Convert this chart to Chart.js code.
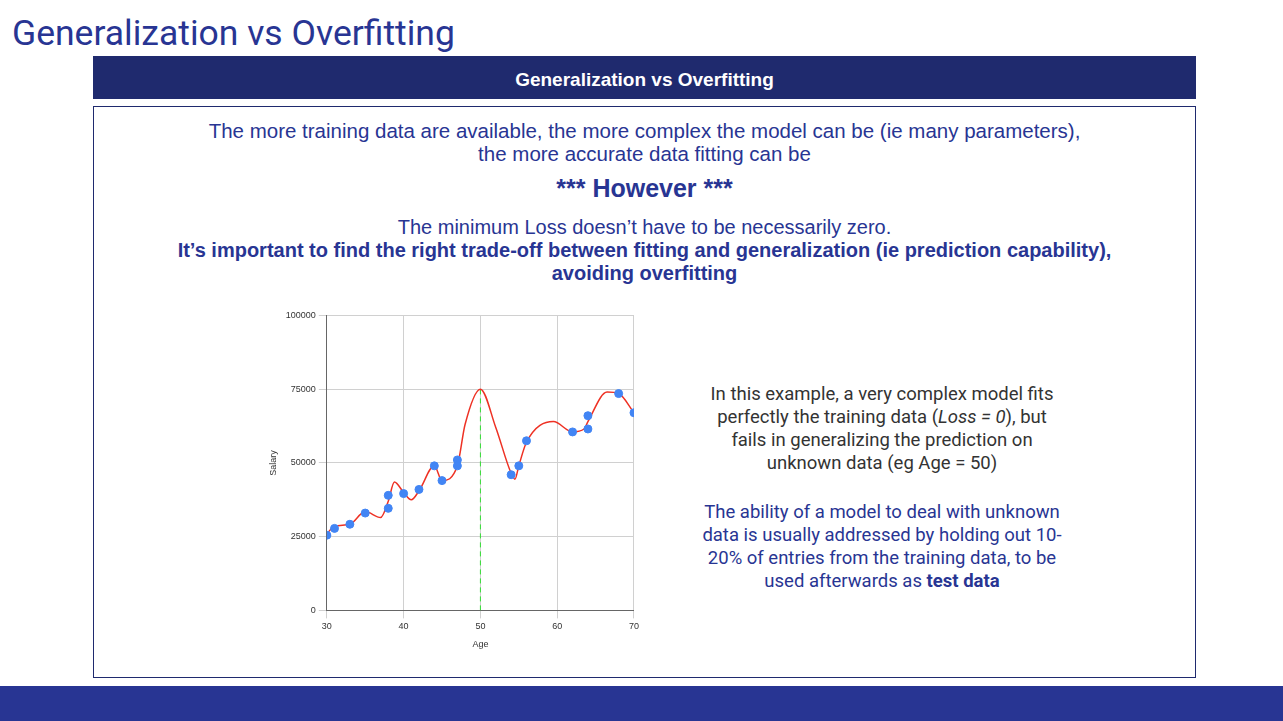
<!DOCTYPE html>
<html><head><meta charset="utf-8">
<script src="https://cdn.jsdelivr.net/npm/chart.js"></script>
<style>
body{margin:0;width:1283px;height:721px;position:relative;background:#fff;font-family:Roboto,"Open Sans",sans-serif;overflow:hidden}
.t{position:absolute;left:12px;top:12px;font-size:35.5px;color:#283593}
.bar{position:absolute;left:93px;top:56px;width:1103px;height:43px;background:#1f2a6e;color:#fff;font:bold 19px "Liberation Sans",Arial,sans-serif;text-align:center;line-height:47px}
.box{position:absolute;left:93px;top:106px;width:1101px;height:570px;border:1px solid #1f2a6e}
.c{position:absolute;left:93px;width:1103px;text-align:center;color:#283593;font-family:"Liberation Sans",Arial,sans-serif}
.side{position:absolute;left:702px;width:360px;text-align:center;font-size:18.5px;line-height:23px}
.foot{position:absolute;left:0;top:686px;width:1283px;height:35px;background:#283593}
#wrap{position:absolute;left:264px;top:307px;width:378px;height:347px}
</style></head><body>
<div class="t">Generalization vs Overfitting</div>
<div class="bar">Generalization vs Overfitting</div>
<div class="box"></div>
<div class="c" style="top:119px;font-size:20.5px;line-height:23px">The more training data are available, the more complex the model can be (ie many parameters),<br>the more accurate data fitting can be</div>
<div class="c" style="top:174px;font-size:25px;font-weight:bold">*** However ***</div>
<div class="c" style="top:216px;font-size:20px;line-height:23px">The minimum Loss doesn’t have to be necessarily zero.<br><b>It’s important to find the right trade-off between fitting and generalization (ie prediction capability),<br>avoiding overfitting</b></div>
<div class="side" style="top:383px;color:#333">In this example, a very complex model fits perfectly the training data (<i>Loss = 0</i>), but fails in generalizing the prediction on unknown data (eg Age = 50)</div>
<div class="side" style="top:501px;color:#283593">The ability of a model to deal with unknown data is usually addressed by holding out 10-20% of entries from the training data, to be used afterwards as <b>test data</b></div>
<div id="wrap"><canvas id="myChart"></canvas></div>
<div class="foot"></div>
<script>
// training points (Age, Salary)
const ages = [30, 31, 33, 35, 38, 38, 40, 42, 44, 45, 47, 47, 54, 55, 56, 62, 64, 64, 68, 70];
const salaries = [25500, 27800, 29200, 33000, 39000, 34600, 39600, 41000, 49000, 44000, 51000, 49000, 46000, 49000, 57500, 60500, 66000, 61500, 73500, 67000];
// overfitted curve
const curveX = [30, 31, 33, 35, 37, 38, 38.8, 40, 41, 42, 44, 45, 47, 48, 50, 52, 54, 54.5, 55, 56, 59.5, 62, 63.5, 64, 66.5, 68, 70];
const curveY = [26000, 28500, 29200, 33500, 31500, 37000, 43500, 40000, 37500, 40500, 49000, 44000, 49000, 63000, 75000, 62000, 46500, 44500, 49000, 57000, 64000, 60500, 61500, 64000, 74000, 73500, 67000];
const xTicks = [30, 40, 50, 60, 70];
const yTicks = [0, 25000, 50000, 75000, 100000];
const markerX = [50, 50];
const markerY = [0, 75000];

function renderChart() {
    const ctx = document.getElementById('myChart').getContext('2d');
    new Chart(ctx, {
        type: 'scatter',
        data: {
            datasets: [{
                data: ages.map((a, i) => ({x: a, y: salaries[i]})),
                backgroundColor: '#4285f4', borderColor: '#4285f4', pointRadius: 4, order: 0
            }, {
                type: 'line',
                data: curveX.map((a, i) => ({x: a, y: curveY[i]})),
                borderColor: '#ee3124', borderWidth: 1.5, pointRadius: 0,
                cubicInterpolationMode: 'monotone', order: 1
            }, {
                type: 'line',
                data: markerX.map((a, i) => ({x: a, y: markerY[i]})),
                borderColor: '#33dd33', borderWidth: 1, borderDash: [5, 4], pointRadius: 0, order: 2
            }]
        },
        options: {
            animation: false, responsive: true, maintainAspectRatio: false,
            layout: {padding: {right: 6}},
            plugins: {legend: {display: false}, tooltip: {enabled: false}},
            scales: {
                x: {
                    type: 'linear', min: 30, max: 70,
                    afterBuildTicks: s => { s.ticks = xTicks.map(v => ({value: v})); },
                    grid: {color: '#d0d0d0'}, border: {color: '#666'},
                    ticks: {color: '#333', font: {size: 9}, callback: v => String(v)},
                    title: {display: true, text: 'Age', color: '#333', font: {size: 9}}
                },
                y: {
                    min: 0, max: 100000,
                    afterBuildTicks: s => { s.ticks = yTicks.map(v => ({value: v})); },
                    grid: {color: '#d0d0d0'}, border: {color: '#666'},
                    ticks: {color: '#333', font: {size: 9}, callback: v => String(v)},
                    title: {display: true, text: 'Salary', color: '#333', font: {size: 9}}
                }
            }
        }
    });
}
renderChart();
</script>
</body></html>
